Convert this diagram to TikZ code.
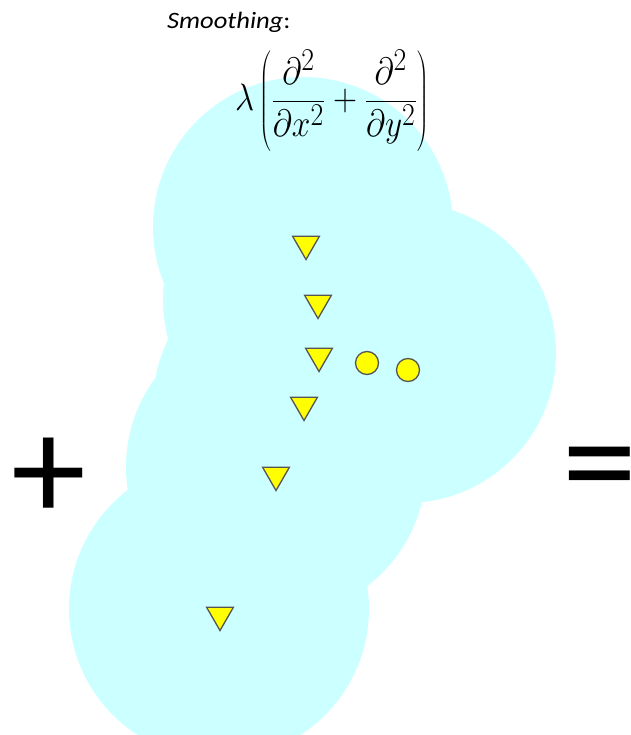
\documentclass[tikz,border=0pt]{standalone}
\usepackage{fontspec}
\usepackage{graphicx}
\newfontfamily\carlito{Carlito}
\usetikzlibrary{shapes.geometric}
\definecolor{blob}{RGB}{204,255,255}
\definecolor{mark}{RGB}{255,255,0}
\definecolor{markline}{RGB}{85,85,85}
\begin{document}
\begin{tikzpicture}[x=1pt,y=-1pt,
  tri/.style={regular polygon, regular polygon sides=3, shape border rotate=180,
    minimum size=31pt, inner sep=0pt, fill=mark, draw=markline, line width=1.3pt},
  dot/.style={circle, minimum size=23pt, inner sep=0pt, fill=mark, draw=markline, line width=1.3pt},
  bigsign/.style={inner sep=0pt, anchor=base west, font=\carlito\fontsize{150}{150}\selectfont}]
\useasboundingbox (0,0) rectangle (630,735);
% cyan union of circles
\foreach \cx/\cy in {303/227,313/300,303/405,276/467,406/353,219/609}
  \fill[blob] (\cx,\cy) circle[radius=150];
% title and formula
\node[inner sep=0pt, anchor=base west, font=\carlito\fontsize{23.5}{28}\selectfont] (title) at (167,29)
  {\scalebox{1.13}[1]{\itshape Smoothing\upshape:}};
\node[inner sep=0pt, anchor=center, font=\fontsize{29}{35}\selectfont] (formula) at (332,101)
  {\scalebox{1.34}[1.53]{$\displaystyle \lambda\left(\frac{\partial^2}{\partial x^2}+\frac{\partial^2}{\partial y^2}\right)$}};
% markers
\node[tri] (t1) at (306,244) {};
\node[tri] (t2) at (318,303) {};
\node[tri] (t3) at (319,356) {};
\node[tri] (t4) at (304,405) {};
\node[tri] (t5) at (276,475) {};
\node[tri] (t6) at (220,615) {};
\node[dot] (c1) at (367,363) {};
\node[dot] (c2) at (408,370) {};
% signs
\node[bigsign] (plus) at (11,520) {+};
\node[bigsign] (eq) at (562,511) {=};
\end{tikzpicture}
\end{document}
